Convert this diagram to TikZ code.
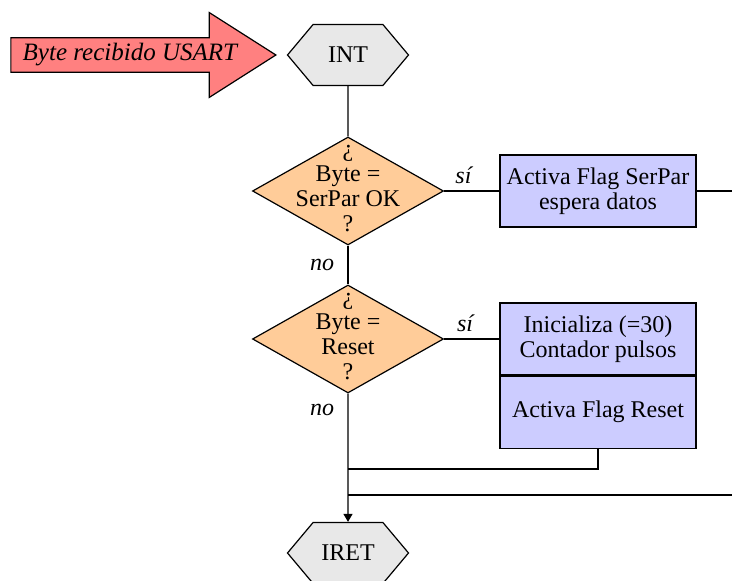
\documentclass[tikz,border=0pt]{standalone}
\usepackage{fontspec}
\setmainfont{Liberation Serif}
\newfontfamily\chartfont{Liberation Serif}
\usetikzlibrary{shapes.geometric,shapes.symbols,shapes.arrows,arrows.meta}
\definecolor{termgray}{HTML}{E8E8E8}
\definecolor{decorange}{HTML}{FFCC99}
\definecolor{procblue}{HTML}{CCCCFF}
\definecolor{evtred}{HTML}{FF8080}
\begin{document}
\begin{tikzpicture}[x=1pt, y=1pt, line width=1.2pt,
  every node/.style={font=\chartfont\fontsize{24}{25}\selectfont},
  terminal/.style={draw, fill=termgray, shape=signal, signal to=west and east,
    signal pointer angle=100, minimum width=121pt, minimum height=61pt, inner sep=0pt},
  decision/.style={draw, fill=decorange, diamond, minimum width=191pt,
    minimum height=108pt, inner sep=0pt},
  process/.style={draw, fill=procblue, rectangle, minimum width=196pt,
    minimum height=72pt, align=center, inner sep=0pt},
  event/.style={draw, fill=evtred, single arrow, single arrow head extend=20.5pt,
    single arrow tip angle=65, minimum height=265pt, minimum width=85pt,
    font=\chartfont\fontsize{25}{25}\selectfont\itshape, inner sep=2pt},
  answer/.style={font=\chartfont\fontsize{24}{25}\selectfont\itshape}]
  \useasboundingbox (0,0) rectangle (732,581);
  \node[terminal] (int) at (348,526) {INT};
  \node[event, anchor=tip] (usart) at (277,526) {Byte recibido USART};
  \node[decision] (d1) at (348,390) {};
  \node[align=center] (d1txt) at (348,392) {¿\\Byte =\\SerPar OK\\?};
  \node[process] (serpar) at (598,390) {Activa Flag SerPar\\espera datos};
  \node[decision] (d2) at (348,242) {};
  \node[align=center] (d2txt) at (348,244) {¿\\Byte =\\Reset\\?};
  \node[process] (cont) at (598,242) {Inicializa (=30)\\Contador pulsos};
  \node[process, anchor=north] (flag) at (cont.south) {Activa Flag Reset};
  \node[terminal] (iret) at (348,28) {IRET};
  \coordinate (e1) at (732,390);
  \coordinate (j1) at (348,112);
  \coordinate (j2) at (348,86);
  \coordinate (e2) at (732,86);
  \draw (int) -- (d1);
  \draw (d1) -- node[answer, pos=0.35, above=3pt] {sí} (serpar);
  \draw (serpar) -- (e1);
  \draw (d1) -- node[answer, pos=0.5, left=10pt] {no} (d2);
  \draw (d2) -- node[answer, pos=0.38, above=3pt] {sí} (cont);
  \draw[-{Triangle[width=9pt,length=8pt]}] (d2) -- node[answer, pos=0.13, left=10pt] {no} (iret);
  \draw (flag) |- (j1);
  \draw (e2) -- (j2);
\end{tikzpicture}
\end{document}
